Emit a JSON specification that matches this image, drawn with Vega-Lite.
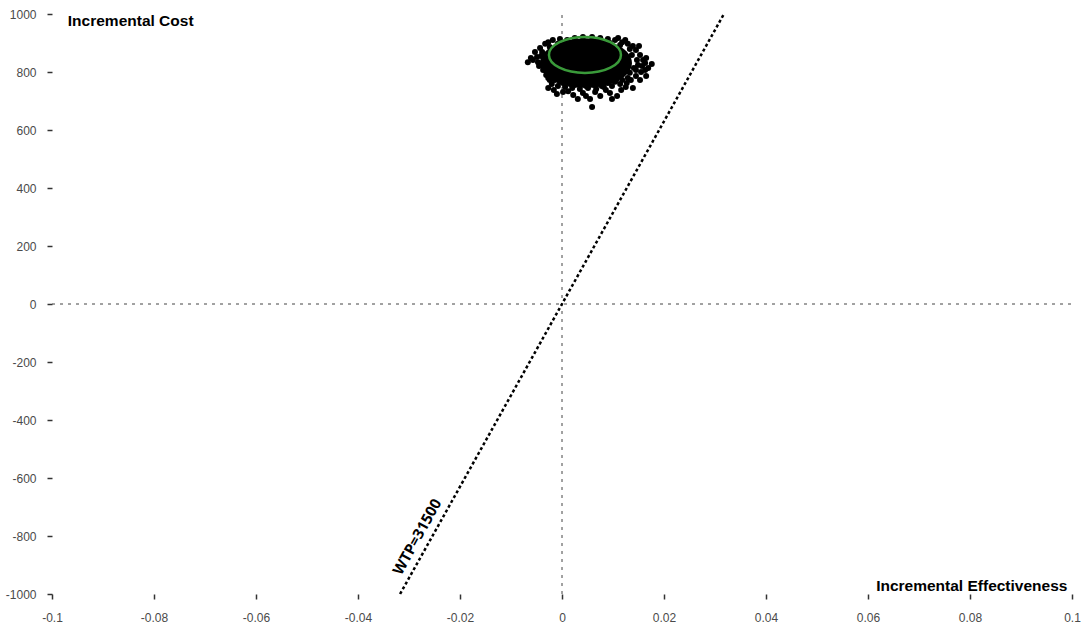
{
  "$schema": "https://vega.github.io/schema/vega-lite/v6.json",
  "width": 1020,
  "height": 580,
  "autosize": {"type": "none"},
  "padding": {"left": 52, "top": 14, "right": 12, "bottom": 40},
  "background": "white",
  "config": {
    "view": {"stroke": null},
    "axis": {
      "domain": false,
      "grid": false,
      "tickSize": 5,
      "tickColor": "#333",
      "tickWidth": 1.5,
      "labelColor": "#4a4a4a",
      "labelFont": "Liberation Sans",
      "labelFontSize": 12,
      "labelPadding": 11,
      "title": null
    }
  },
  "encoding": {
    "x": {
      "field": "x",
      "type": "quantitative",
      "scale": {"domain": [-0.1, 0.1], "nice": false, "zero": false},
      "axis": {
        "values": [-0.1, -0.08, -0.06, -0.04, -0.02, 0, 0.02, 0.04, 0.06, 0.08, 0.1],
        "labelExpr": "toString(datum.value)",
        "labelFlush": false,
        "labelPadding": 13
      }
    },
    "y": {
      "field": "y",
      "type": "quantitative",
      "scale": {"domain": [-1000, 1000], "nice": false, "zero": false},
      "axis": {
        "values": [-1000, -800, -600, -400, -200, 0, 200, 400, 600, 800, 1000],
        "labelExpr": "toString(datum.value)",
        "labelFlush": false
      }
    }
  },
  "layer": [
    {
      "data": {"values": [{"x": 0, "y": -1000, "y2": 1000}]},
      "mark": {"type": "rule", "strokeDash": [3, 5], "color": "#444", "strokeWidth": 1},
      "encoding": {"y2": {"field": "y2"}}
    },
    {
      "data": {"values": [{"x": -0.1, "x2": 0.1, "y": 0}]},
      "mark": {"type": "rule", "strokeDash": [3, 5], "color": "#444", "strokeWidth": 1},
      "encoding": {"x2": {"field": "x2"}}
    },
    {
      "data": {"values": [{"x": -0.03175, "y": -1000}, {"x": 0.03175, "y": 1000}]},
      "mark": {"type": "line", "strokeDash": [3, 2.5], "color": "black", "strokeWidth": 2.5},
      "encoding": {}
    },
    {
      "data": {"values": [{"x": 0.0047, "y": 831}]},
      "mark": {"type": "point", "shape": "M-1,0A1,0.54 0 1,1 1,0A1,0.54 0 1,1 -1,0Z", "filled": true, "color": "black", "opacity": 1, "size": 8464},
      "encoding": {}
    },
    {
      "data": {"values": [
        {"x": -0.0061, "y": 848}, {"x": -0.0053, "y": 869}, {"x": -0.0047, "y": 834}, {"x": -0.0043, "y": 883},
        {"x": -0.0037, "y": 807}, {"x": -0.0033, "y": 897}, {"x": -0.0041, "y": 855}, {"x": -0.0031, "y": 790},
        {"x": -0.0024, "y": 772}, {"x": -0.0027, "y": 903},
        {"x": -0.0018, "y": 910}, {"x": -0.0004, "y": 914}, {"x": 0.0010, "y": 910}, {"x": 0.0025, "y": 917},
        {"x": 0.0041, "y": 921}, {"x": 0.0059, "y": 921}, {"x": 0.0075, "y": 917}, {"x": 0.0090, "y": 914},
        {"x": 0.0104, "y": 910}, {"x": 0.0118, "y": 903}, {"x": 0.0129, "y": 897}, {"x": 0.0139, "y": 890},
        {"x": 0.0110, "y": 917}, {"x": 0.0124, "y": 910},
        {"x": 0.0145, "y": 876}, {"x": 0.0153, "y": 859}, {"x": 0.0159, "y": 841}, {"x": 0.0149, "y": 824},
        {"x": 0.0163, "y": 831}, {"x": 0.0169, "y": 814}, {"x": 0.0176, "y": 828}, {"x": 0.0155, "y": 800},
        {"x": 0.0145, "y": 786}, {"x": 0.0135, "y": 772}, {"x": 0.0165, "y": 848}, {"x": 0.0151, "y": 890},
        {"x": -0.0020, "y": 759}, {"x": -0.0008, "y": 752}, {"x": 0.0006, "y": 748}, {"x": 0.0020, "y": 745},
        {"x": 0.0035, "y": 741}, {"x": 0.0051, "y": 745}, {"x": 0.0067, "y": 741}, {"x": 0.0082, "y": 748},
        {"x": 0.0098, "y": 752}, {"x": 0.0114, "y": 759}, {"x": 0.0127, "y": 762}, {"x": -0.0004, "y": 766},
        {"x": 0.0025, "y": 755}, {"x": 0.0075, "y": 759}, {"x": 0.0104, "y": 766},
        {"x": -0.0010, "y": 724}, {"x": 0.0055, "y": 707}, {"x": 0.0059, "y": 679}, {"x": 0.0094, "y": 728},
        {"x": 0.0116, "y": 738}, {"x": 0.0153, "y": 772}, {"x": 0.0022, "y": 721}, {"x": 0.0075, "y": 717},
        {"x": -0.0027, "y": 745}, {"x": 0.0139, "y": 745}, {"x": 0.0002, "y": 731}, {"x": 0.0108, "y": 717},
        {"x": 0.0165, "y": 786}, {"x": -0.0067, "y": 834},
        {"x": -0.0024, "y": 886}, {"x": -0.0008, "y": 897}, {"x": 0.0008, "y": 900}, {"x": 0.0024, "y": 903},
        {"x": 0.0075, "y": 903}, {"x": 0.0094, "y": 900}, {"x": 0.0114, "y": 893}, {"x": 0.0133, "y": 879},
        {"x": -0.0049, "y": 852}, {"x": -0.0039, "y": 869}, {"x": -0.0035, "y": 834}, {"x": -0.0029, "y": 814},
        {"x": -0.0045, "y": 821}, {"x": -0.0057, "y": 841},
        {"x": 0.0137, "y": 859}, {"x": 0.0147, "y": 841}, {"x": 0.0141, "y": 814}, {"x": 0.0133, "y": 797},
        {"x": 0.0157, "y": 821}, {"x": 0.0129, "y": 779}, {"x": 0.0145, "y": 807},
        {"x": -0.0027, "y": 779}, {"x": -0.0014, "y": 772}, {"x": 0.0002, "y": 762}, {"x": 0.0016, "y": 759},
        {"x": 0.0031, "y": 759}, {"x": 0.0047, "y": 752}, {"x": 0.0063, "y": 755}, {"x": 0.0078, "y": 752},
        {"x": 0.0090, "y": 762}, {"x": 0.0106, "y": 772}, {"x": 0.0118, "y": 772}, {"x": 0.0163, "y": 807},
        {"x": -0.0016, "y": 738}, {"x": 0.0012, "y": 734}, {"x": 0.0041, "y": 728}, {"x": 0.0065, "y": 731},
        {"x": 0.0086, "y": 738}, {"x": 0.0125, "y": 748}, {"x": 0.0047, "y": 717}, {"x": 0.0031, "y": 707},
        {"x": 0.0098, "y": 707}
      ]},
      "mark": {"type": "point", "filled": true, "color": "black", "opacity": 1, "size": 36},
      "encoding": {}
    },
    {
      "data": {"values": [{"x": 0.0045, "y": 859}]},
      "mark": {"type": "point", "shape": "M-1,0A1,0.5 0 1,1 1,0A1,0.5 0 1,1 -1,0Z", "filled": false, "stroke": "#3a9a3a", "strokeWidth": 2.5, "opacity": 1, "size": 5184},
      "encoding": {}
    },
    {
      "data": {"values": [
        {"x": -0.0969, "y": 976, "label": "Incremental Cost"},
        {"x": 0.0616, "y": -972, "label": "Incremental Effectiveness"}
      ]},
      "mark": {"type": "text", "align": "left", "baseline": "middle", "font": "Liberation Sans", "fontWeight": "bold", "fontSize": 15.5, "color": "black"},
      "encoding": {"text": {"field": "label"}}
    },
    {
      "data": {"values": [{"x": -0.0284, "y": -803, "label": "WTP=31500"}]},
      "mark": {"type": "text", "align": "center", "baseline": "middle", "angle": -61, "font": "Open Sans", "fontWeight": "bold", "fontSize": 15, "color": "black"},
      "encoding": {"text": {"field": "label"}}
    }
  ]
}
